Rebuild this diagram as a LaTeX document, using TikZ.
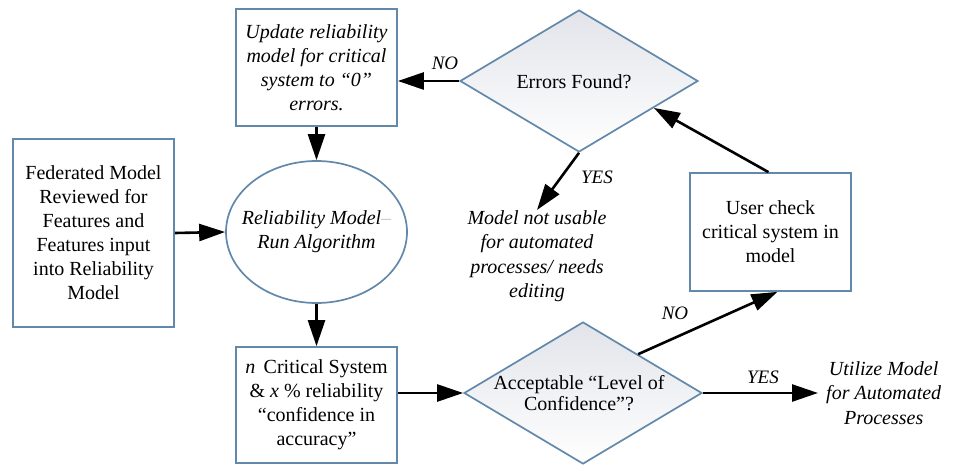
\documentclass[tikz,border=0pt]{standalone}
\usepackage{fontspec}
\setmainfont{Liberation Serif}
\usetikzlibrary{shapes.geometric,arrows.meta,calc}
\definecolor{edgeblue}{RGB}{98,136,170}
\definecolor{diafill}{RGB}{226,228,234}
\begin{document}
\begin{tikzpicture}[x=1pt,y=-1pt,
  every node/.style={font=\fontsize{20}{24}\selectfont, align=center},
  procbox/.style={draw=edgeblue, line width=1.7pt, fill=white, inner sep=0pt},
  decision/.style={diamond, draw=edgeblue, line width=1.7pt, inner sep=0pt,
    minimum width=238pt, minimum height=142pt, top color=diafill, bottom color=white},
  flow/.style={line width=2.6pt, -{Triangle[length=26pt,width=17pt]}},
  answer/.style={font=\fontsize{19}{22}\selectfont\itshape},
  outcome/.style={font=\fontsize{20}{24.5}\selectfont\itshape, inner sep=0pt}]

\useasboundingbox (0,0) rectangle (956,465);

% process boxes
\node[procbox, minimum width=161pt, minimum height=117pt] (update) at (316.5,67.5)
  {\itshape Update reliability\\\itshape model for critical\\\itshape system to “0”\\\itshape errors.};
\node[procbox, minimum width=161pt, minimum height=188pt] (fed) at (93.5,233)
  {Federated Model\\Reviewed for\\Features and\\Features input\\into Reliability\\Model};
\node[ellipse, draw=edgeblue, line width=1.7pt, fill=white, inner sep=0pt,
  minimum width=181pt, minimum height=142pt] (rel) at (316.5,232) {};
\node at (rel.center) {\itshape Reliability Model{\color{gray!45}–}\\\itshape Run Algorithm};
\node[procbox, minimum width=161pt, minimum height=116pt] (crit) at (316.5,405)
  {\textit{n}\, Critical System\\\& \textit{x} \% reliability\\“confidence in\\accuracy”};
\node[procbox, minimum width=161pt, minimum height=118pt] (user) at (770.5,232)
  {User check\\critical system in\\model};

% decisions
\node[decision] (errors) at (579,81) {};
\node at (574,82) {Errors Found?};
\node[decision] (accept) at (583,393) {};
\node[font=\fontsize{20}{21}\selectfont] at (579,393) {Acceptable “Level of\\Confidence”?};

% outcomes
\node[outcome] (unusable) at (537,256)
  {Model not usable\\for automated\\processes/ needs\\editing};
\node[outcome, anchor=west, inner xsep=8pt] (utilize) at (818,393)
  {Utilize Model\\for Automated\\Processes};

% connectors
\draw[flow] (errors.west) -- (errors.west -| update.east);
\draw[flow] (update.south) -- (rel.north);
\draw[flow] (fed.east) -- (rel.west);
\draw[flow] (rel.south) -- (crit.north);
\draw[flow] (accept.west -| crit.east) -- (accept.west);
\draw[flow] (errors.south) -- (unusable.north);
\draw[flow] ($(accept.north)!0.46!(accept.east)$) -- ($(user.south)+(7,0)$);
\draw[flow] ($(user.north)+(-2,0)$) -- ($(errors.south east)!0.25!(errors.east)$);
\draw[flow] (accept.east) -- (utilize.west);

% branch labels
\node[answer] at (445,63) {NO};
\node[answer] at (597,177) {YES};
\node[answer] at (675,313) {NO};
\node[answer] at (763,377) {YES};
\end{tikzpicture}
\end{document}
